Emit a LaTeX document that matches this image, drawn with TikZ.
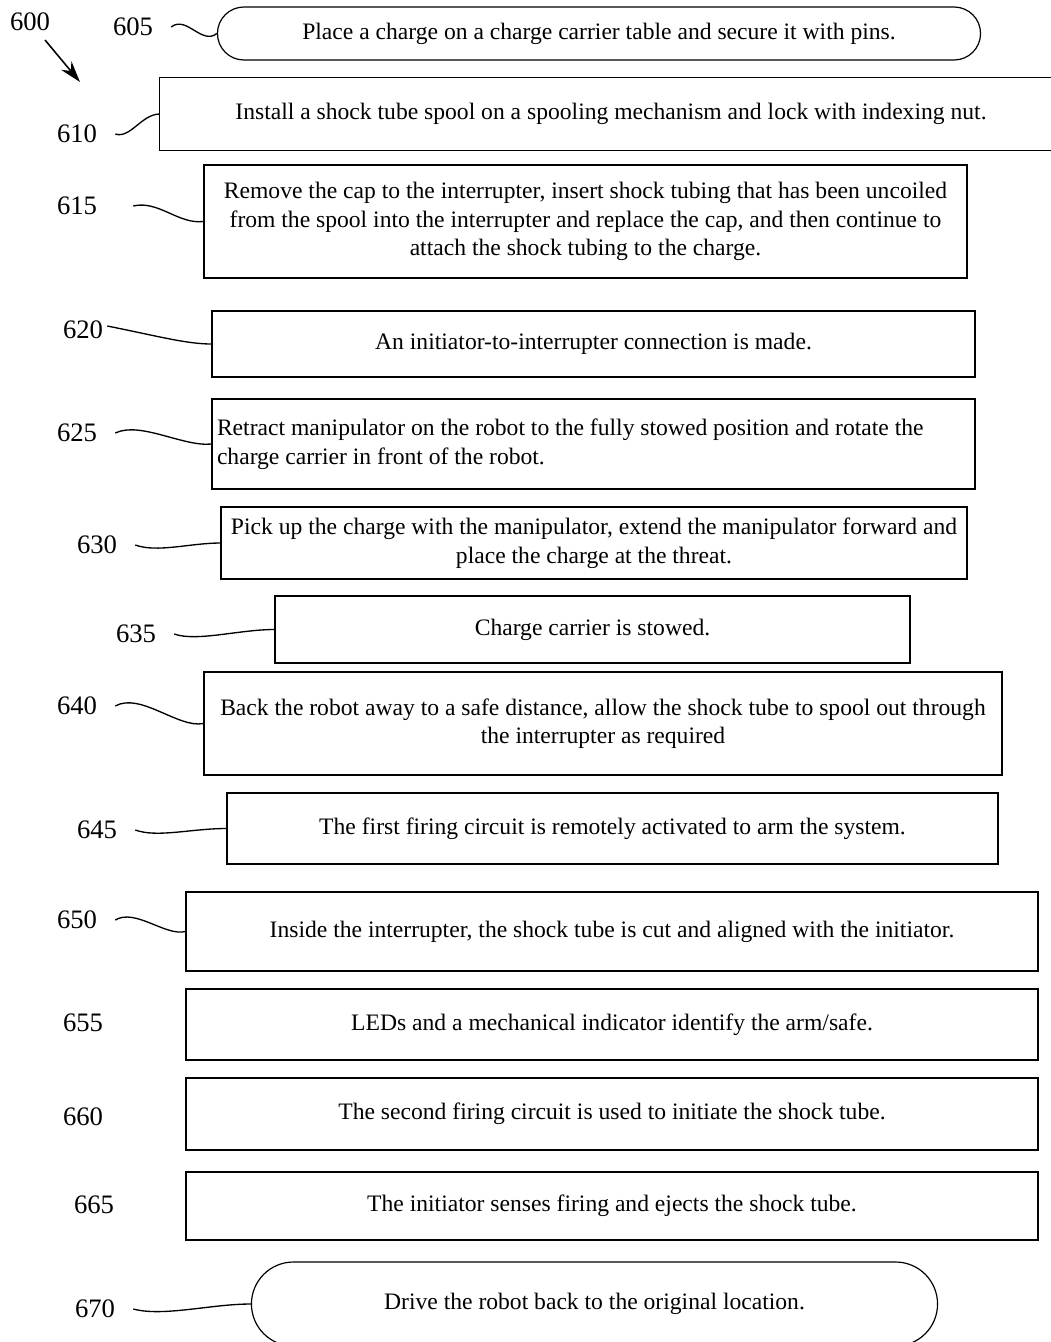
\documentclass[tikz,border=0pt]{standalone}
\usepackage{fontspec}
\setmainfont{Liberation Serif}
\usetikzlibrary{arrows.meta,shapes.misc}
\newcommand{\px}{0.75pt}
\newcommand{\boxfont}{\fontsize{17.7}{21.4}\selectfont}
\newcommand{\labelfont}{\fontsize{20}{24}\selectfont}
\tikzset{
  stepbox/.style={draw, rectangle, line width=0.9pt, align=center, font=\boxfont},
  termbox/.style={draw, rounded rectangle, line width=0.9pt, align=center, font=\boxfont},
  reflabel/.style={font=\labelfont, inner xsep=13.5pt, inner ysep=0pt},
  leader/.style={line width=1pt},
  pointer/.style={line width=1.2pt, -{Stealth[length=16pt, width=10pt]}}
}
\begin{document}
\begin{tikzpicture}[x=\px, y=-\px]
  \useasboundingbox (0,0) rectangle (1050,1342);

  % reference numbers
  \foreach \n/\x/\y in {600/30/22, 605/133/27, 610/77/134, 615/77/206, 620/83/330,
                        625/77/433, 630/97/545, 635/136/634, 640/77/706, 645/97/830,
                        650/77/920, 655/83/1023, 660/83/1117, 665/94/1205, 670/95/1309}{
    \node[reflabel] (l\n) at (\x,\y) {\n};
  }

  % steps
  \node[termbox, minimum width=772*\px, minimum height=53*\px] (s605) at (599,33.5)
    {Place a charge on a charge carrier table and secure it with pins.};
  \node[font=\boxfont, minimum width=902*\px, minimum height=72*\px] (s610) at (611,114)
    {Install a shock tube spool on a spooling mechanism and lock with indexing nut.};
  \draw[line width=0.9pt] (s610.north east) -- (s610.north west) -- (s610.south west) -- (s610.south east);
  \node[stepbox, minimum width=763*\px, minimum height=113*\px] (s615) at (585.5,221.5)
    {Remove the cap to the interrupter, insert shock tubing that has been uncoiled\\
     from the spool into the interrupter and replace the cap, and then continue to\\
     attach the shock tubing to the charge.};
  \node[stepbox, minimum width=763*\px, minimum height=66*\px] (s620) at (593.5,344)
    {An initiator-to-interrupter connection is made.};
  \node[stepbox, align=flush left, text width=753*\px, inner xsep=5*\px, minimum height=90*\px] (s625) at (593.5,444)
    {Retract manipulator on the robot to the fully stowed position and rotate the\\
     charge carrier in front of the robot.};
  \node[stepbox, minimum width=746*\px, minimum height=72*\px] (s630) at (594,543)
    {Pick up the charge with the manipulator, extend the manipulator forward and\\
     place the charge at the threat.};
  \node[stepbox, minimum width=635*\px, minimum height=67*\px] (s635) at (592.5,629.5)
    {Charge carrier is stowed.};
  \node[stepbox, minimum width=798*\px, minimum height=103*\px] (s640) at (603,723.5)
    {Back the robot away to a safe distance, allow the shock tube to spool out through\\
     the interrupter as required};
  \node[stepbox, minimum width=771*\px, minimum height=71*\px] (s645) at (612.5,828.5)
    {The first firing circuit is remotely activated to arm the system.};
  \node[stepbox, minimum width=852*\px, minimum height=79*\px] (s650) at (612,931.5)
    {Inside the interrupter, the shock tube is cut and aligned with the initiator.};
  \node[stepbox, minimum width=852*\px, minimum height=71*\px] (s655) at (612,1024.5)
    {LEDs and a mechanical indicator identify the arm/safe.};
  \node[stepbox, minimum width=852*\px, minimum height=72*\px] (s660) at (612,1114)
    {The second firing circuit is used to initiate the shock tube.};
  \node[stepbox, minimum width=852*\px, minimum height=68*\px] (s665) at (612,1206)
    {The initiator senses firing and ejects the shock tube.};
  \node[termbox, minimum width=695*\px, minimum height=84*\px] (s670) at (594.5,1304)
    {Drive the robot back to the original location.};

  % arrow and leaders
  \coordinate (tip600) at (80,82);
  \draw[pointer, shorten <=17.6pt] (l600.center) -- (tip600);
  \draw[leader] (l605.east) .. controls +(15,-12) and +(-15,12) .. (s605.west);
  \draw[leader] (l610.east) .. controls +(15,5) and +(-18,0) .. (s610.west);
  \draw[leader] ([xshift=13.5pt]l615.east) .. controls +(25,-6) and +(-25,3) .. (s615.west);
  \draw[leader] ([shift={(-14,-4)}]l620.east) .. controls +(50,10) and +(-25,0) .. (s620.west);
  \draw[leader] (l625.east) .. controls +(25,-12) and +(-28,3) .. (s625.west);
  \draw[leader] (l630.east) .. controls +(22,8) and +(-30,0) .. (s630.west);
  \draw[leader] (l635.east) .. controls +(22,8) and +(-35,0) .. (s635.west);
  \draw[leader] (l640.east) .. controls +(25,-14) and +(-25,5) .. (s640.west);
  \draw[leader] (l645.east) .. controls +(22,8) and +(-35,0) .. (s645.west);
  \draw[leader] (l650.east) .. controls +(20,-12) and +(-20,5) .. (s650.west);
  \draw[leader] (l670.east) .. controls +(30,8) and +(-40,0) .. (s670.west);
\end{tikzpicture}
\end{document}
